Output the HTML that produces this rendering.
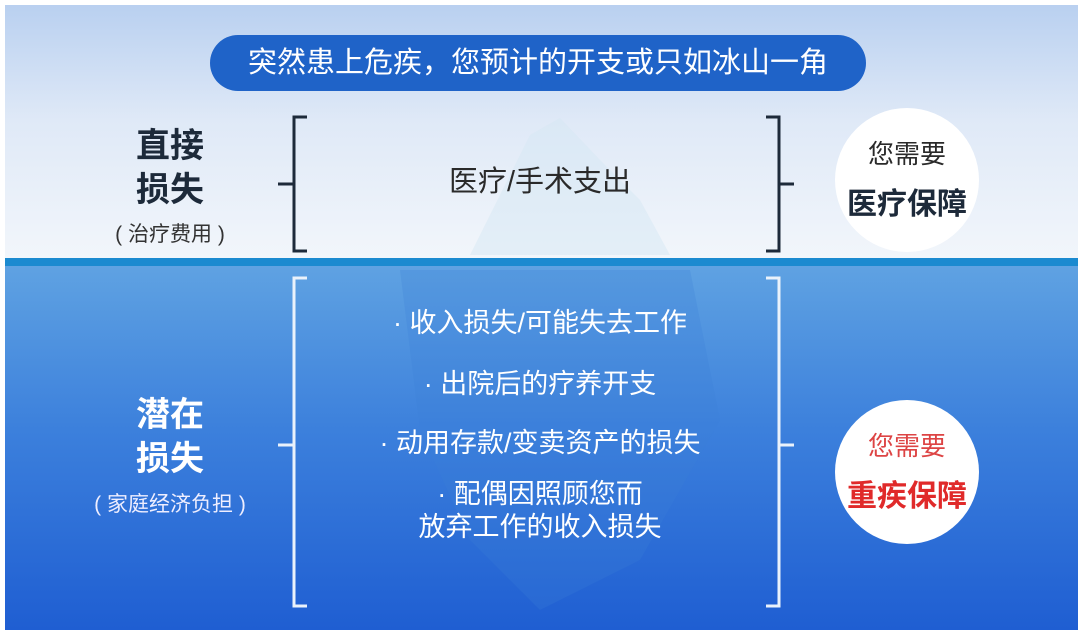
<!DOCTYPE html>
<html><head><meta charset="utf-8"><style>
*{margin:0;padding:0;box-sizing:border-box}
body{width:1078px;height:635px;background:#fff;position:relative;overflow:hidden;font-family:"Liberation Sans","Noto Sans CJK SC",sans-serif}
.top{position:absolute;left:5px;top:5px;width:1073px;height:255px;background:linear-gradient(#b9d0f0,#dfe9f7 45%,#f2f6fb)}
.line{position:absolute;left:5px;top:258px;width:1073px;height:8px;background:#1b8ad0}
.bot{position:absolute;left:5px;top:266px;width:1073px;height:364px;background:linear-gradient(#5fa2e2,#3c80dc 45%,#1f5ed2)}
.t{position:absolute;white-space:nowrap;text-align:center}
.pill{position:absolute;left:210px;top:35px;width:656px;height:56px;border-radius:28px;background:#1f63c8;color:#fff;font-size:29px;line-height:56px;text-align:center}
.circ{position:absolute;width:144px;height:144px;border-radius:50%;background:#fff;text-align:center}
</style></head><body>
<div class="top"></div><div class="line"></div><div class="bot"></div>
<svg width="1078" height="635" style="position:absolute;left:0;top:0">
<polygon points="470,255 530,135 560,118 600,160 640,200 670,255" fill="#d6e7f4" opacity="0.5"/>
<polygon points="400,270 690,270 720,420 640,560 540,610 470,540 420,430" fill="#3a7fd6" opacity="0.25"/>
<g fill="none" stroke="#1d2a3a" stroke-width="3">
<path d="M307,117 H294 V251 H307"/><path d="M278,184 H294"/>
<path d="M766,117 H779 V251 H766"/><path d="M779,184 H794"/>
</g>
<g fill="none" stroke="#eaf2fb" stroke-width="3">
<path d="M307,278 H294 V606 H307"/><path d="M278,445 H294"/>
<path d="M766,278 H779 V606 H766"/><path d="M779,445 H794"/>
</g>
</svg>
<div class="pill">突然患上危疾，您预计的开支或只如冰山一角</div>
<div class="t" style="left:118px;top:124px;width:104px;font-size:34px;line-height:44px;font-weight:bold;color:#1d2a3a">直接<br>损失</div>
<div class="t" style="left:95px;top:218px;width:150px;font-size:21px;color:#333">( 治疗费用 )</div>
<div class="t" style="left:400px;top:158px;width:280px;font-size:29px;color:#2a2a2a">医疗/手术支出</div>
<div class="circ" style="left:835px;top:108px"><div style="font-size:26px;color:#2a2a2a;margin-top:26px">您需要</div><div style="font-size:30px;font-weight:bold;color:#1d2a3a;margin-top:8px">医疗保障</div></div>
<div class="t" style="left:118px;top:393px;width:104px;font-size:34px;line-height:44px;font-weight:bold;color:#fff">潜在<br>损失</div>
<div class="t" style="left:70px;top:488px;width:200px;font-size:21px;color:#eef">( 家庭经济负担 )</div>
<div class="t" style="left:340px;top:301px;width:400px;font-size:27px;color:#fff">· 收入损失/可能失去工作</div>
<div class="t" style="left:340px;top:362px;width:400px;font-size:27px;color:#fff">· 出院后的疗养开支</div>
<div class="t" style="left:340px;top:421px;width:400px;font-size:27px;color:#fff">· 动用存款/变卖资产的损失</div>
<div class="t" style="left:340px;top:478px;width:400px;font-size:27px;line-height:33px;color:#fff">· 配偶因照顾您而<br>放弃工作的收入损失</div>
<div class="circ" style="left:835px;top:400px"><div style="font-size:26px;color:#d44;margin-top:26px">您需要</div><div style="font-size:30px;font-weight:bold;color:#e02a2a;margin-top:8px">重疾保障</div></div>
</body></html>
